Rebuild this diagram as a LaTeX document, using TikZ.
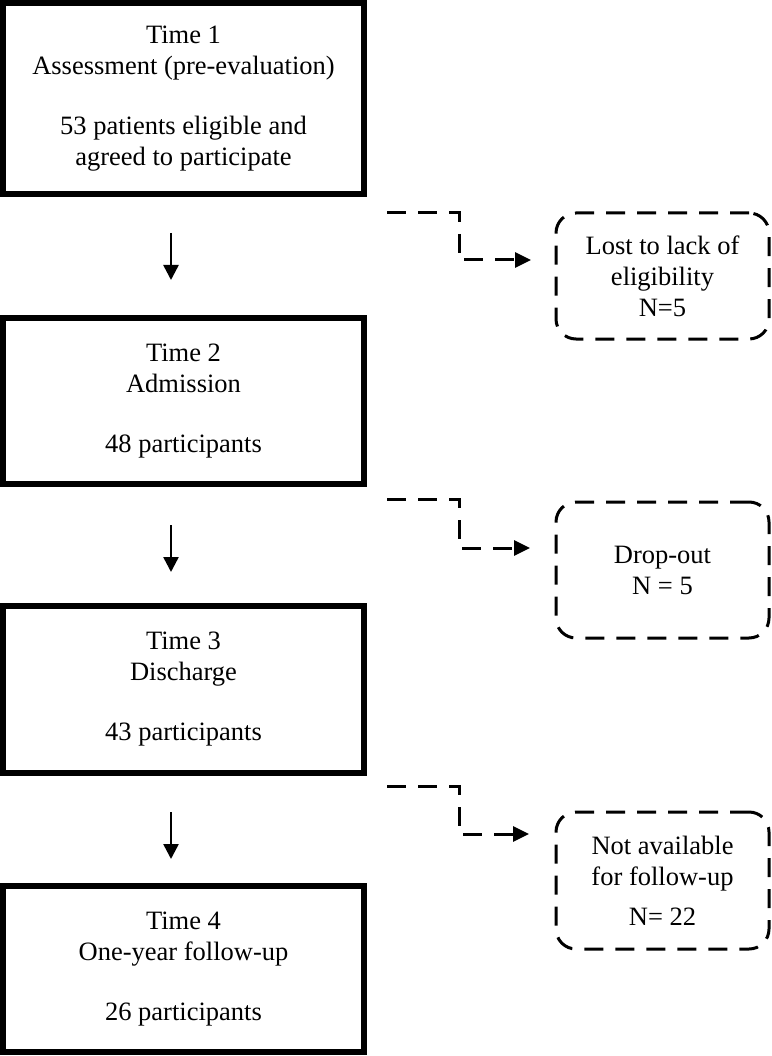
\documentclass[tikz,border=0pt]{standalone}
\usepackage{fontspec}
\setmainfont{Liberation Serif}
\usetikzlibrary{arrows.meta,positioning}

\begin{document}
\begin{tikzpicture}[x=1pt, y=-1pt, node distance=120pt, every node/.style={font=\fontsize{26.5pt}{31pt}\selectfont}, box/.style={draw, line width=6pt, align=center, minimum width=361pt, inner sep=0pt, outer sep=0pt}, lossbox/.style={draw, line width=3pt, dash pattern=on 19pt off 12pt, rounded corners=20pt, align=center, minimum width=213pt, inner sep=0pt, outer sep=0pt}, arr/.style={line width=2.5pt, -{Triangle[length=15pt,width=15pt]}}, dline/.style={line width=3pt, dash pattern=on 19pt off 12pt, -{Triangle[length=16pt,width=15pt]}}]
\useasboundingbox (0,0) rectangle (771,1056);
% time points
\node[box, minimum height=191pt] (t1) at (183.5,98.5) {Time 1\\Assessment (pre-evaluation)\\[29pt]53 patients eligible and\\agreed to participate};
\node[box, minimum height=166pt, below=124pt of t1] (t2) {Time 2\\Admission\\[29pt]48 participants};
\node[box, minimum height=167pt, below=122pt of t2] (t3) {Time 3\\Discharge\\[29pt]43 participants};
\node[box, minimum height=166pt, below=113pt of t3] (t4) {Time 4\\One-year follow-up\\[29pt]26 participants};
% losses
\node[lossbox, minimum height=126pt] (loss1) at (662.5,276) {Lost to lack of\\eligibility\\N=5};
\node[lossbox, minimum height=136pt] (loss2) at (662.5,570) {Drop-out\\N = 5};
\node[lossbox, minimum height=137pt] (loss3) at (662.5,880.5) {Not available\\for follow-up\\[9pt]N= 22};
\coordinate (c1) at (387,213); \coordinate (e1) at (531,260);
\coordinate (c2) at (387,499); \coordinate (e2) at (530,548);
\coordinate (c3) at (387,786); \coordinate (e3) at (529,834);
\draw[arr] ([xshift=-12.5pt]t1.south) ++(0,39) -- ++(0,47);
\draw[arr] ([xshift=-12.5pt]t2.south) ++(0,41) -- ++(0,47);
\draw[arr] ([xshift=-12.5pt]t3.south) ++(0,39) -- ++(0,47);
\draw[dline] (c1) -- ++(72,0) |- (e1);
\draw[dline] (c2) -- ++(72,0) |- (e2);
\draw[dline] (c3) -- ++(72,0) |- (e3);
\end{tikzpicture}
\end{document}
